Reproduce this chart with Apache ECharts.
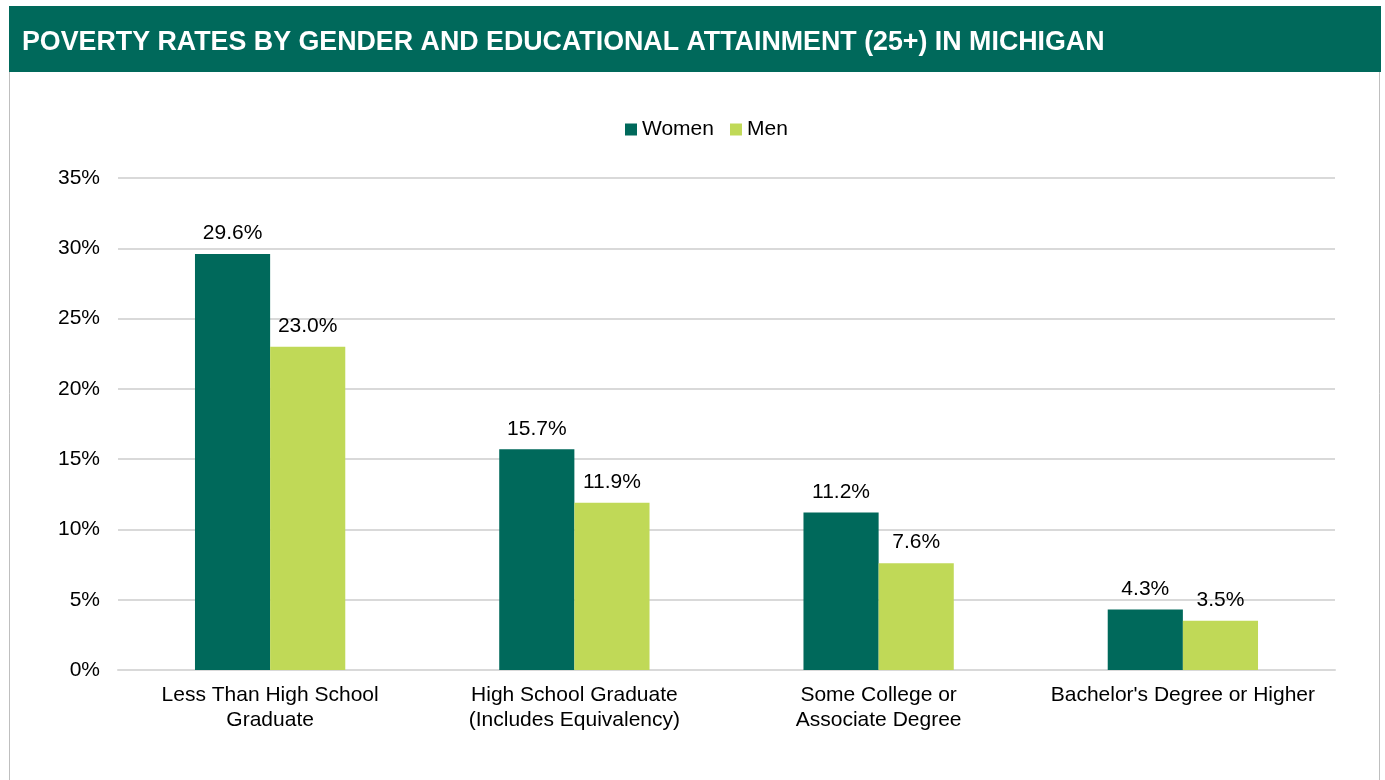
<!DOCTYPE html>
<html>
<head>
<meta charset="utf-8">
<script src="https://cdn.jsdelivr.net/npm/echarts@6/dist/echarts.min.js"></script>
<style>
  html, body { margin: 0; padding: 0; background: #fff; }
  #container { width: 1385px; height: 780px; }
</style>
</head>
<body>
<div id="container"></div>
<script>
const categories = [
  'Less Than High School\nGraduate',
  'High School Graduate\n(Includes Equivalency)',
  'Some College or\nAssociate Degree',
  "Bachelor's Degree or Higher"
];
const women = [29.6, 15.7, 11.2, 4.3];
const men = [23.0, 11.9, 7.6, 3.5];
const yTicks = [0, 5, 10, 15, 20, 25, 30, 35];

const DARK = '#00695B';
const LIGHT = '#C0D957';
const FONT = '"Liberation Sans", Arial, sans-serif';

const chart = echarts.init(document.getElementById('container'));

const label = {
  show: true,
  position: 'top',
  distance: 10,
  color: '#000',
  fontSize: 21,
  fontFamily: FONT,
  formatter: p => p.value.toFixed(1) + '%'
};

const option = {
  animation: false,
  textStyle: { fontFamily: FONT },
  graphic: [
    {
      type: 'rect',
      shape: { x: 9.5, y: 6.5, width: 1370, height: 800 },
      style: { fill: '#fff', stroke: '#BFBFBF', lineWidth: 1 },
      z: -10
    },
    {
      type: 'rect',
      shape: { x: 9, y: 6, width: 1372, height: 66 },
      style: { fill: DARK },
      z: -5
    }
  ],
  title: {
    text: 'POVERTY RATES BY GENDER AND EDUCATIONAL ATTAINMENT (25+) IN MICHIGAN',
    left: 17,
    top: 24,
    textStyle: { color: '#fff', fontSize: 26.8, fontWeight: 'bold', fontFamily: FONT }
  },
  legend: {
    data: ['Women', 'Men'],
    top: 114,
    left: 620,
    itemWidth: 12,
    itemHeight: 12,
    itemGap: 16,
    icon: 'rect',
    textStyle: { fontSize: 21, color: '#000', fontFamily: FONT }
  },
  grid: { left: 118, right: 50, top: 178, bottom: 110, containLabel: false },
  xAxis: {
    type: 'category',
    data: categories,
    axisLine: { lineStyle: { color: '#D9D9D9', width: 2 } },
    axisTick: { show: false },
    axisLabel: { color: '#000', fontSize: 21, fontFamily: FONT, margin: 13, lineHeight: 25, interval: 0 }
  },
  yAxis: {
    type: 'value',
    min: 0,
    max: 35,
    interval: 5,
    splitLine: { lineStyle: { color: '#D9D9D9', width: 2 } },
    axisLine: { show: false },
    axisTick: { show: false },
    axisLabel: {
      color: '#000', fontSize: 21, fontFamily: FONT, margin: 18,
      formatter: v => yTicks.includes(v) ? v + '%' : ''
    }
  },
  series: [
    {
      name: 'Women',
      type: 'bar',
      data: women,
      itemStyle: { color: DARK },
      barGap: '0%',
      barCategoryGap: '50.6%',
      label
    },
    {
      name: 'Men',
      type: 'bar',
      data: men,
      itemStyle: { color: LIGHT },
      label
    }
  ]
};

chart.setOption(option);
</script>
</body>
</html>
